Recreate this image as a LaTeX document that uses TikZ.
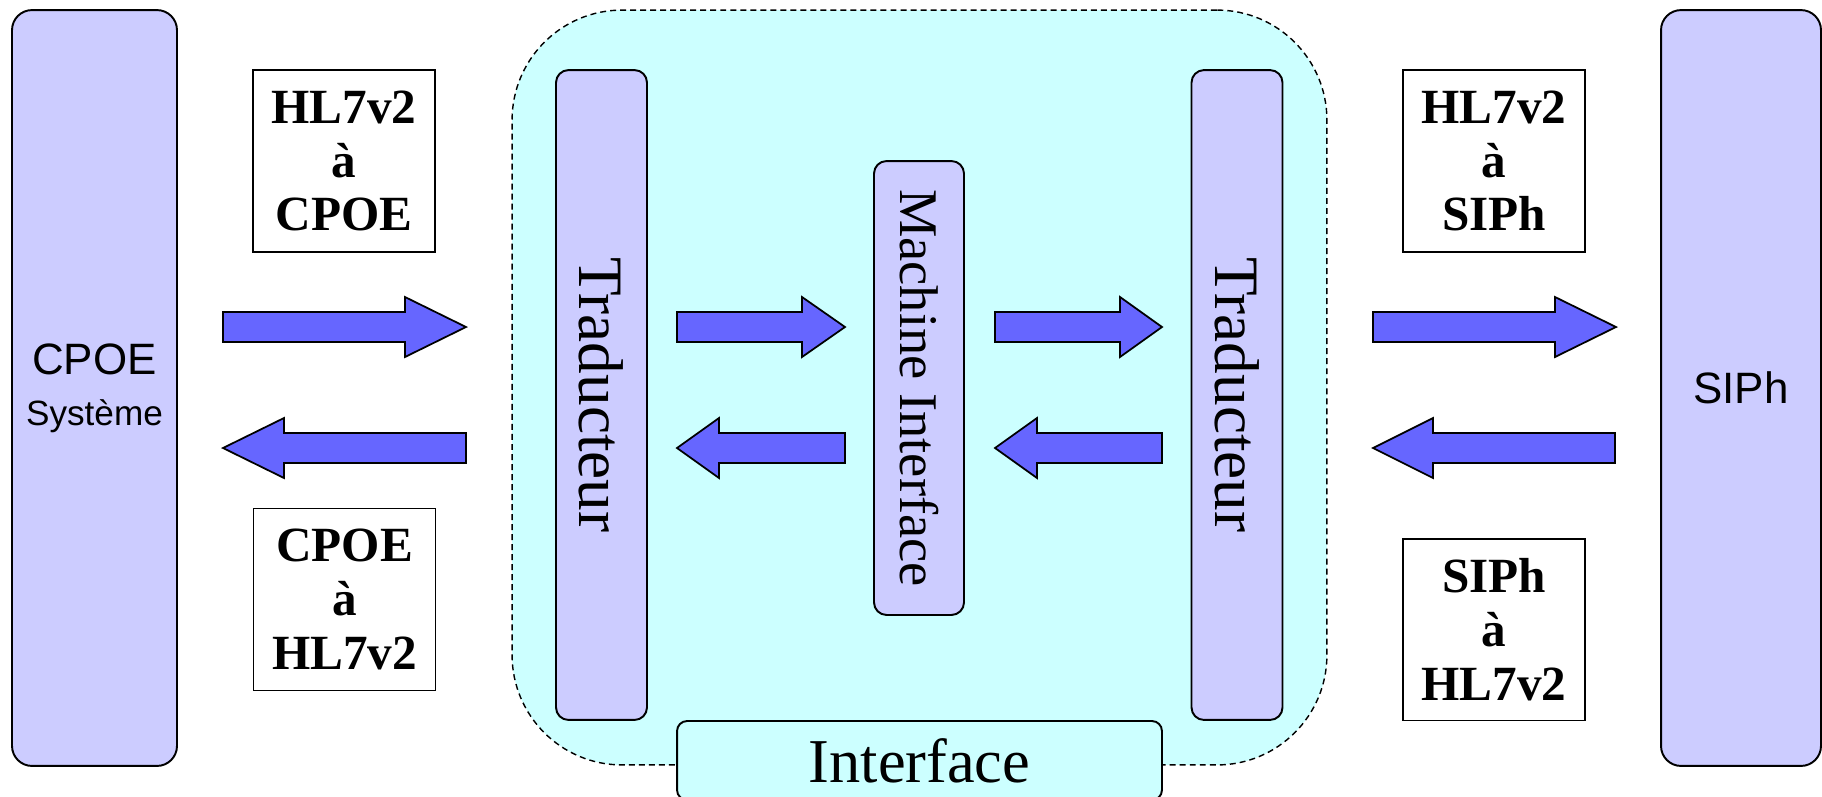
\documentclass[tikz,border=0pt]{standalone}
\usepackage{fontspec}
\setmainfont{Liberation Serif}
\newfontfamily\arialfont{Liberation Sans}
\usepackage{xcolor}
\usepackage{tikz}
\usetikzlibrary{positioning}
\definecolor{lavande}{HTML}{CCCCFF}
\definecolor{bleufleche}{HTML}{6666FF}
\definecolor{cyanclair}{HTML}{CCFFFF}

\begin{document}
\begin{tikzpicture}[
  x=0.02cm, y=-0.02cm,
  systeme/.style={draw,line width=1.1pt,rounded corners=0.4cm,fill=lavande,minimum height=15.12cm,align=center,inner sep=0pt,font=\arialfont\fontsize{25}{29}\selectfont},
  module/.style={draw,line width=1.1pt,rounded corners=0.25cm,fill=lavande,rotate=-90,inner sep=0pt},
  etiquette/.style={draw,line width=1.1pt,fill=white,minimum width=3.64cm,minimum height=3.64cm,align=center,inner sep=0pt,font=\bfseries\fontsize{28}{30.7}\selectfont},
  zone/.style={draw,line width=0.8pt,dash pattern=on 3.4pt off 2.3pt,fill=cyanclair,rounded corners=2.2cm,minimum width=16.3cm,minimum height=15.1cm},
  fleche/.style={draw,line width=1pt,fill=bleufleche,line join=miter},
  pics/fleche/.style 2 args={code={
    \path[fleche] (0,-15) -- ({#1-#2},-15) -- ({#1-#2},-30) -- (#1,0) -- ({#1-#2},30) -- ({#1-#2},15) -- (0,15) -- cycle;
  }}
]
\clip (0,0) rectangle (1822,796);
\fill[white] (0,0) rectangle (1822,796);

% zone de l'interface
\node[zone] (interface) at (919.5,387.5) {};
\node[draw,line width=1.1pt,fill=cyanclair,rounded corners=0.2cm,minimum width=9.7cm,minimum height=1.58cm,inner sep=0pt,font=\fontsize{35.5}{40}\selectfont] (titre) at (919.5,760.5) {Interface};

% systemes
\node[systeme,minimum width=3.3cm] (cpoe) at (94.5,388) {CPOE\\\fontsize{20}{24}\selectfont Système};
\node[systeme,minimum width=3.2cm] (siph) at (1741,388) {SIPh};

% modules
\node[module,minimum width=13cm,minimum height=1.82cm,font=\fontsize{36}{40}\selectfont] (trad1) at (601.5,395) {Traducteur};
\node[module,minimum width=13cm,minimum height=1.82cm,font=\fontsize{36}{40}\selectfont] (trad2) at (1237,395) {Traducteur};
\node[module,minimum width=9.08cm,minimum height=1.8cm,font=\fontsize{31}{35}\selectfont] (machine) at (919,388) {Machine Interface};

% etiquettes
\node[etiquette] (e1) at (344,161) {HL7v2\\à\\CPOE};
\node[etiquette] (e2) at (344.5,599.5) {CPOE\\à\\HL7v2};
\node[etiquette] (e3) at (1494,161) {HL7v2\\à\\SIPh};
\node[etiquette] (e4) at (1494,629.5) {SIPh\\à\\HL7v2};

% fleches
\pic at (223,327) {fleche={243}{61}};
\pic[xscale=-1] at (466,448) {fleche={243}{61}};
\pic at (677,327) {fleche={168}{43}};
\pic[xscale=-1] at (845,448) {fleche={168}{42}};
\pic at (995,327) {fleche={167}{42}};
\pic[xscale=-1] at (1162,448) {fleche={167}{42}};
\pic at (1373,327) {fleche={243}{61}};
\pic[xscale=-1] at (1615,448) {fleche={242}{60}};
\end{tikzpicture}
\end{document}
